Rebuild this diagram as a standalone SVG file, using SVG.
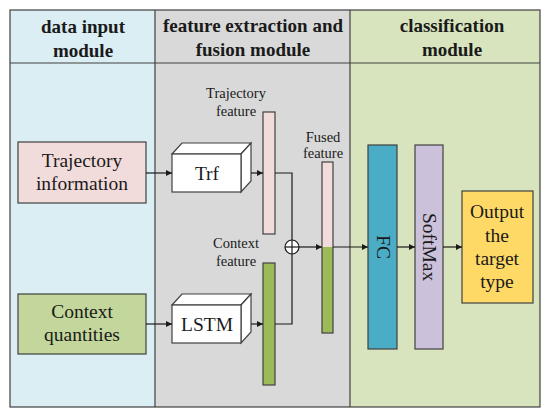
<svg xmlns="http://www.w3.org/2000/svg" width="550" height="420" viewBox="0 0 550 420">
<defs>
<marker id="ah" viewBox="0 0 10 10" refX="10" refY="5" markerWidth="8" markerHeight="6" markerUnits="userSpaceOnUse" orient="auto">
<path d="M0,0 L10,5 L0,10 z" fill="#1a1a1a"/>
</marker>
<style>
.hd{font-family:"Liberation Serif","DejaVu Serif","Times New Roman",serif;font-weight:bold;font-size:19px;fill:#1a1a1a;text-anchor:middle}
.tx{font-family:"Liberation Serif","Times New Roman",serif;font-size:19.5px;fill:#1a1a1a;text-anchor:middle}
.lb{font-family:"Liberation Serif","Times New Roman",serif;font-size:14.5px;fill:#1a1a1a;text-anchor:middle}
.bx{stroke:#404040;stroke-width:1.2}
.ln{stroke:#1a1a1a;stroke-width:1.2;fill:none}
.ar{stroke:#1a1a1a;stroke-width:1.2;fill:none;marker-end:url(#ah)}
</style>
</defs>
<rect width="550" height="420" fill="#ffffff"/>
<g id="columns">
<rect x="10" y="10" width="145" height="397" fill="#DAEEF3"/>
<rect x="155" y="10" width="195" height="397" fill="#D9D9D9"/>
<rect x="350" y="10" width="190" height="397" fill="#D7E4BD"/>
<rect x="10" y="10" width="530" height="397" fill="none" stroke="#404040" stroke-width="1.2"/>
<line x1="10" y1="63" x2="540" y2="63" stroke="#404040" stroke-width="1.2"/>
<line x1="155" y1="10" x2="155" y2="407" stroke="#404040" stroke-width="1.2"/>
<line x1="350" y1="10" x2="350" y2="407" stroke="#404040" stroke-width="1.2"/>
<text class="hd" x="83" y="33">data input</text>
<text class="hd" x="83" y="57">module</text>
<text class="hd" x="253" y="32">feature extraction and</text>
<text class="hd" x="253" y="56">fusion module</text>
<text class="hd" x="452" y="32">classification</text>
<text class="hd" x="452" y="56">module</text>
</g>
<g id="traj-info">
<rect class="bx" x="18" y="142" width="128" height="61" fill="#F2DCDB"/>
<text class="tx" x="82" y="167">Trajectory</text>
<text class="tx" x="82" y="190">information</text>
</g>
<g id="context-q">
<rect class="bx" x="18" y="294" width="128" height="60" fill="#C3D69B"/>
<text class="tx" x="82" y="318">Context</text>
<text class="tx" x="82" y="341">quantities</text>
</g>
<g id="trf">
<path class="bx" d="M172,154 L182,143 L251,143 L241,154 Z" fill="#ffffff"/>
<path class="bx" d="M241,154 L251,143 L251,181 L241,192 Z" fill="#ffffff"/>
<rect class="bx" x="172" y="154" width="69" height="38" fill="#ffffff"/>
<text class="tx" x="207" y="180">Trf</text>
</g>
<g id="lstm">
<path class="bx" d="M172,305 L182,294 L251,294 L241,305 Z" fill="#ffffff"/>
<path class="bx" d="M241,305 L251,294 L251,332 L241,343 Z" fill="#ffffff"/>
<rect class="bx" x="172" y="305" width="69" height="38" fill="#ffffff"/>
<text class="tx" x="207" y="331">LSTM</text>
</g>
<g id="traj-feature">
<text class="lb" x="236" y="98">Trajectory</text>
<text class="lb" x="236" y="116">feature</text>
<rect class="bx" x="263" y="112" width="12" height="122" fill="#F2DCDB"/>
</g>
<g id="context-feature">
<text class="lb" x="236" y="248">Context</text>
<text class="lb" x="236" y="266">feature</text>
<rect class="bx" x="263" y="263" width="12" height="122" fill="#9BBB59"/>
</g>
<g id="fusion-op">
<circle cx="292" cy="247" r="7" fill="#ffffff" stroke="#1a1a1a" stroke-width="1.2"/>
<line class="ln" x1="285" y1="247" x2="299" y2="247"/>
<line class="ln" x1="292" y1="240" x2="292" y2="254"/>
</g>
<g id="fused-feature">
<text class="lb" x="323" y="142">Fused</text>
<text class="lb" x="323" y="158">feature</text>
<rect x="322" y="162" width="11" height="85" fill="#F2DCDB"/>
<rect x="322" y="247" width="11" height="86" fill="#9BBB59"/>
<rect x="322" y="162" width="11" height="171" fill="none" class="bx"/>
</g>
<g id="fc">
<rect class="bx" x="368" y="145" width="29" height="204" fill="#4BACC6"/>
<text class="tx" transform="translate(383,247) rotate(90)" y="6.5">FC</text>
</g>
<g id="softmax">
<rect class="bx" x="415" y="145" width="28" height="204" fill="#CCC1DA"/>
<text class="tx" transform="translate(429,247) rotate(90)" y="6.5">SoftMax</text>
</g>
<g id="output">
<rect class="bx" x="462" y="191" width="71" height="112" fill="#FFD966"/>
<text class="tx" x="497" y="218">Output</text>
<text class="tx" x="497" y="242">the</text>
<text class="tx" x="497" y="265">target</text>
<text class="tx" x="497" y="288">type</text>
</g>
<g id="connectors">
<line class="ar" x1="146" y1="173" x2="172" y2="173"/>
<line class="ar" x1="146" y1="324" x2="172" y2="324"/>
<line class="ar" x1="251" y1="173" x2="263" y2="173"/>
<line class="ar" x1="251" y1="324" x2="263" y2="324"/>
<polyline class="ln" points="275,173 292,173 292,240"/>
<polyline class="ln" points="275,324 292,324 292,254"/>
<line class="ar" x1="299" y1="247" x2="322" y2="247"/>
<line class="ar" x1="333" y1="247" x2="368" y2="247"/>
<line class="ar" x1="397" y1="247" x2="415" y2="247"/>
<line class="ar" x1="443" y1="247" x2="462" y2="247"/>
</g>
</svg>
